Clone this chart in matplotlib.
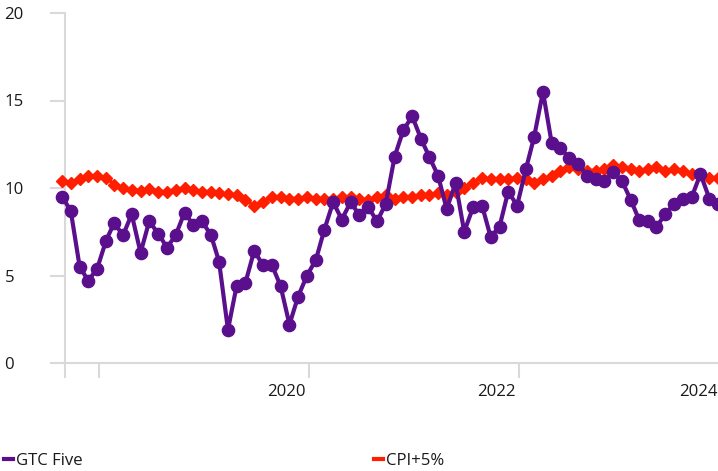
import matplotlib
matplotlib.use('Agg')
import matplotlib.pyplot as plt
import matplotlib.dates as mdates
from matplotlib.lines import Line2D
import pandas as pd

# ---------------- data ----------------
start_month = '2017-09-01'
gtc_five = [9.5, 8.7, 5.5, 4.7, 5.4, 7.0, 8.0, 7.3, 8.5, 6.3,
            8.1, 7.4, 6.6, 7.3, 8.6, 7.9, 8.1, 7.3, 5.8, 1.9,
            4.4, 4.6, 6.4, 5.6, 5.6, 4.4, 2.2, 3.8, 5.0, 5.9,
            7.6, 9.2, 8.2, 9.2, 8.45, 8.9, 8.1, 9.1, 11.8, 13.3,
            14.1, 12.8, 11.8, 10.7, 8.8, 10.3, 7.5, 8.9, 9.0, 7.2,
            7.8, 9.8, 9.0, 11.1, 12.9, 15.5, 12.6, 12.3, 11.7, 11.4,
            10.7, 10.5, 10.4, 10.9, 10.4, 9.3, 8.2, 8.1, 7.8, 8.5,
            9.1, 9.35, 9.5, 10.8, 9.4, 9.1]
cpi_plus5 = [10.4, 10.3, 10.5, 10.7, 10.7, 10.6, 10.2, 10.0, 9.9, 9.85,
             9.95, 9.8, 9.8, 9.9, 10.0, 9.9, 9.8, 9.8, 9.7, 9.65,
             9.6, 9.3, 9.0, 9.2, 9.5, 9.5, 9.4, 9.4, 9.5, 9.4,
             9.4, 9.4, 9.5, 9.5, 9.4, 9.3, 9.5, 9.6, 9.4, 9.5,
             9.5, 9.6, 9.6, 9.7, 9.6, 9.8, 10.0, 10.3, 10.6, 10.5,
             10.5, 10.5, 10.6, 10.5, 10.3, 10.5, 10.7, 11.0, 11.2, 11.1,
             11.0, 11.0, 11.1, 11.3, 11.2, 11.1, 11.0, 11.1, 11.2, 11.0,
             11.1, 11.0, 10.8, 10.8, 10.6, 10.6]
series_names = ['GTC Five', 'CPI+5%']
year_ticks = ['2018-01-08', '2020-01-08', '2022-01-08']
year_labels = ['2020', '2022', '2024']
label_dates = ['2019-10-22', '2021-10-22', '2023-09-25']
y_ticks = [0, 5, 10, 15, 20]

# ---------------- style ----------------
purple = '#5a0f8c'
red = '#ff1f00'
gray = '#d9d9d9'
text_color = '#1a1a1a'
fs = 12.1

plt.rcParams['font.family'] = ['Open Sans', 'DejaVu Sans']

dates = pd.date_range(start_month, periods=len(gtc_five), freq='MS')

fig = plt.figure(figsize=(7.18, 4.71), dpi=100)
ax = fig.add_axes([65 / 718, 108 / 471, 653 / 718, 350 / 471])

ax.plot(dates, cpi_plus5, color=red, lw=2.5, marker='D', ms=6.0,
        mec=red, mfc=red, clip_on=False, zorder=3)
ax.plot(dates, gtc_five, color=purple, lw=3, marker='o', ms=8.8,
        mec=purple, mfc=purple, clip_on=False, zorder=4)

x0 = mdates.date2num(dates[0]) + 10
x1 = mdates.date2num(dates[-1])
ax.set_xlim(x0, x1)
ax.set_ylim(0, 20)

for s in ['top', 'right']:
    ax.spines[s].set_visible(False)
for s in ['left', 'bottom']:
    ax.spines[s].set_color(gray)
    ax.spines[s].set_linewidth(1.5)

major = [x0] + [mdates.date2num(pd.Timestamp(d)) for d in year_ticks]
ax.set_xticks(major)
ax.set_xticklabels([''] * len(major))
ax.set_xticks([mdates.date2num(pd.Timestamp(d)) for d in label_dates], minor=True)
ax.set_xticklabels(year_labels, minor=True)
ax.tick_params(axis='x', which='major', length=10.8, width=1.5, color=gray, direction='out')
ax.tick_params(axis='x', which='minor', length=0, pad=15, labelsize=fs, labelcolor=text_color)

ax.set_yticks(y_ticks)
ax.set_yticklabels([str(v) for v in y_ticks])
ax.tick_params(axis='y', length=10.5, width=1.5, color=gray, direction='out',
               pad=33, labelsize=fs, labelcolor=text_color)
for lbl in ax.get_yticklabels():
    lbl.set_horizontalalignment('left')

# legend
for name, col, xpos in [(series_names[0], purple, 4), (series_names[1], red, 374)]:
    fig.legend(handles=[Line2D([], [], color=col, lw=3)], labels=[name],
               loc='center left', bbox_to_anchor=(xpos / 718, (471 - 461) / 471),
               frameon=False, handlelength=0.55, handletextpad=0.15,
               borderaxespad=0, borderpad=0, fontsize=fs, labelcolor=text_color)

fig.savefig('out.png', dpi=100)
